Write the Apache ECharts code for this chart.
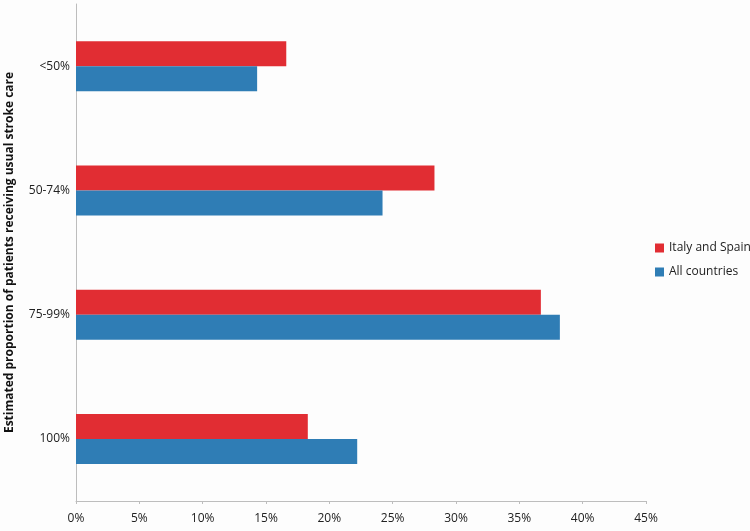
<!DOCTYPE html>
<html>
<head>
<meta charset="utf-8">
<script src="https://cdn.jsdelivr.net/npm/echarts@6/dist/echarts.min.js"></script>
<style>html,body{margin:0;padding:0;background:#fdfdfd;}#chart{width:750px;height:531px;}</style>
</head>
<body>
<div id="chart"></div>
<script>
// Categories listed bottom-to-top (ECharts category y-axis starts at the bottom)
const categories = ['100%', '75-99%', '50-74%', '<50%'];
const allCountries = [22.2, 38.2, 24.2, 14.3];
const italySpain = [18.3, 36.7, 28.3, 16.6];
const xTicks = [0, 5, 10, 15, 20, 25, 30, 35, 40, 45];

const font = '"Open Sans", "Liberation Sans", sans-serif';
const chart = echarts.init(document.getElementById('chart'));
chart.setOption({
  backgroundColor: '#fdfdfd',
  animation: false,
  grid: { left: 76, right: 104, top: 4, bottom: 30, containLabel: false, outerBoundsMode: 'none' },
  legend: {
    orient: 'vertical',
    left: 650,
    top: 237,
    itemWidth: 9,
    itemHeight: 9,
    itemGap: 12,
    icon: 'rect',
    data: ['Italy and Spain', 'All countries'],
    textStyle: { fontFamily: font, fontSize: 12, color: '#222' }
  },
  xAxis: {
    type: 'value',
    min: xTicks[0],
    max: xTicks[xTicks.length - 1],
    interval: 5,
    axisLine: { show: true, lineStyle: { color: '#bdbdbd' } },
    axisTick: { show: true, length: 3, lineStyle: { color: '#bdbdbd' } },
    splitLine: { show: false },
    axisLabel: { formatter: v => v + '%', margin: 12, fontFamily: font, fontSize: 12, color: '#222' }
  },
  yAxis: {
    type: 'category',
    data: categories,
    name: 'Estimated proportion of patients receiving usual stroke care',
    nameLocation: 'middle',
    nameGap: 60,
    nameTextStyle: { fontFamily: font, fontSize: 12, fontWeight: 'bold', color: '#111' },
    axisLine: { show: true, lineStyle: { color: '#bdbdbd' } },
    axisTick: { show: false },
    axisLabel: { margin: 6, fontFamily: font, fontSize: 12, color: '#222' }
  },
  series: [
    {
      name: 'Italy and Spain',
      type: 'bar',
      data: italySpain,
      barWidth: 25,
      barGap: '0%',
      itemStyle: { color: '#E12D33' }
    },
    {
      name: 'All countries',
      type: 'bar',
      data: allCountries,
      barWidth: 25,
      barGap: '0%',
      itemStyle: { color: '#2F7DB5' }
    }
  ]
});
</script>
</body>
</html>
